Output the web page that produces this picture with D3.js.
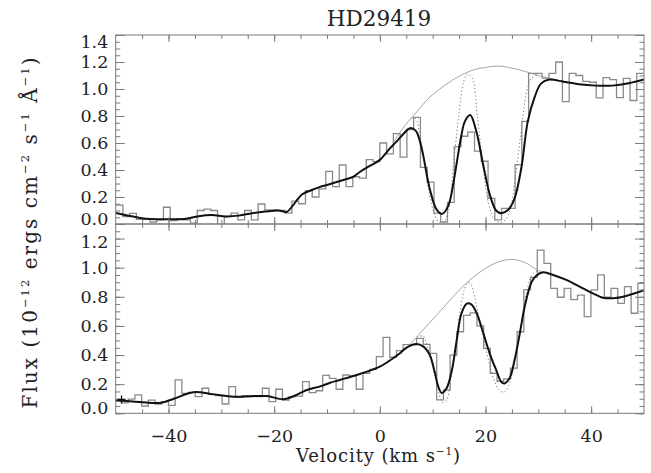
<!DOCTYPE html>
<html>
<head>
<meta charset="utf-8">
<script src="https://cdn.jsdelivr.net/npm/d3@7"></script>
<style>
  body { margin: 0; background: #fff; }
  text { font-family: "DejaVu Serif", serif; fill: #222; }
  .tick text { font-size: 17.5px; }
</style>
</head>
<body>
<div id="chart"></div>
<script>
// ---- data ----
// upper spectrum: left edge of each velocity bin (km/s) and flux
var velTop = [-49.92, -48.64, -47.36, -46.08, -44.80, -43.52, -42.24, -40.96, -39.68, -38.40,
  -37.12, -35.84, -34.56, -33.28, -32.00, -30.72, -29.44, -28.16, -26.88, -25.60,
  -24.32, -23.04, -21.76, -20.48, -19.20, -17.92, -16.64, -15.36, -14.08, -12.80,
  -11.52, -10.24, -8.96, -7.68, -6.40, -5.12, -3.84, -2.56, -1.28, 0.00,
  1.28, 2.56, 3.84, 5.12, 6.40, 7.68, 8.96, 10.24, 11.52, 12.80,
  14.08, 15.36, 16.64, 17.92, 19.20, 20.48, 21.76, 23.04, 24.32, 25.60,
  26.88, 28.16, 29.44, 30.72, 32.00, 33.28, 34.56, 35.84, 37.12, 38.40,
  39.68, 40.96, 42.24, 43.52, 44.80, 46.08, 47.36, 48.64];
var fluxTop = [0.14, 0.054, 0.079, 0.035, 0.035, 0.015, 0.03, 0.124, 0.025, 0.04,
  0.03, 0.007, 0.10, 0.11, 0.10, -0.01, 0.054, 0.08, 0.03, 0.10,
  0.03, 0.148, 0.104, 0.104, 0.10, 0.08, 0.17, 0.15, 0.247, 0.20,
  0.26, 0.39, 0.277, 0.437, 0.277, 0.35, 0.34, 0.477, 0.462, 0.60,
  0.52, 0.67, 0.495, 0.70, 0.79, 0.42, 0.31, 0.08, 0.015, 0.16,
  0.573, 0.65, 0.68, 0.54, 0.465, 0.19, 0.03, 0.116, 0.116, 0.44,
  0.76, 1.116, 1.116, 1.08, 1.116, 1.20, 0.906, 1.116, 1.10, 1.057,
  1.05, 0.935, 1.084, 1.07, 0.936, 1.078, 0.915, 1.116];

// lower spectrum
var velBot = [-50.17, -48.90, -47.63, -46.36, -45.09, -43.82, -42.55, -41.28, -40.01, -38.75,
  -37.48, -36.21, -34.94, -33.67, -32.40, -31.13, -29.86, -28.59, -27.32, -26.05,
  -24.78, -23.51, -22.24, -20.97, -19.70, -18.44, -17.17, -15.90, -14.63, -13.36,
  -12.09, -10.82, -9.55, -8.28, -7.01, -5.74, -4.47, -3.20, -1.93, -0.66,
  0.61, 1.88, 3.15, 4.41, 5.68, 6.95, 8.22, 9.49, 10.76, 12.03,
  13.30, 14.57, 15.84, 17.11, 18.38, 19.65, 20.91, 22.18, 23.45, 24.72,
  25.99, 27.26, 28.53, 29.80, 31.07, 32.34, 33.61, 34.88, 36.15, 37.41,
  38.68, 39.95, 41.22, 42.49, 43.76, 45.03, 46.30, 47.57, 48.84];
var fluxBot = [0.085, 0.071, 0.098, 0.126, 0.05, 0.091, 0.064, 0.08, 0.055, 0.229,
  0.137, 0.144, 0.114, 0.172, 0.13, 0.121, 0.064, 0.183, 0.11, 0.121,
  0.114, 0.114, 0.172, 0.08, 0.165, 0.091, 0.114, 0.118, 0.218, 0.142,
  0.155, 0.26, 0.24, 0.165, 0.263, 0.256, 0.165, 0.275, 0.302, 0.389,
  0.522, 0.385, 0.43, 0.472, 0.47, 0.515, 0.473, 0.412, 0.092, 0.16,
  0.40, 0.56, 0.672, 0.69, 0.60, 0.446, 0.275, 0.22, 0.237, 0.31,
  0.56, 0.85, 0.933, 1.12, 1.03, 0.858, 0.797, 0.858, 0.78, 0.812,
  0.664, 0.847, 0.95, 0.797, 0.858, 0.755, 0.87, 0.687, 0.893];

// model curves [velocity, flux]
var fitTop = [[-50, 0.082], [-47, 0.058], [-44, 0.038], [-40, 0.035], [-37, 0.037], [-34.3, 0.058],
  [-31.8, 0.066], [-29.2, 0.056], [-26.7, 0.062], [-24.2, 0.08], [-21.7, 0.092], [-19.2, 0.10],
  [-17.6, 0.09], [-16.6, 0.13], [-14.7, 0.22], [-12.9, 0.252], [-11.3, 0.275], [-10, 0.289],
  [-6.9, 0.326], [-5, 0.35], [-3.8, 0.385], [-1.9, 0.43], [0, 0.475], [1.9, 0.56], [3.15, 0.61],
  [4.4, 0.665], [5.7, 0.71], [6.8, 0.69], [7.6, 0.61], [8.2, 0.51], [9.45, 0.26], [10.7, 0.11],
  [11.8, 0.075], [13.0, 0.14], [13.9, 0.3], [14.5, 0.44], [15.4, 0.65], [16.1, 0.76], [17.1, 0.807],
  [18.3, 0.68], [19.5, 0.45], [20.8, 0.22], [22.0, 0.10], [23.0, 0.08], [24.3, 0.105], [25.5, 0.19],
  [26.8, 0.42], [28.0, 0.76], [29.3, 0.94], [30.5, 1.04], [32.1, 1.07], [34.6, 1.055], [37.7, 1.035],
  [40.9, 1.025], [44.0, 1.025], [47.1, 1.042], [50, 1.07]];
var contTop = [[2.5, 0.60], [4.0, 0.69], [5.5, 0.765], [7.0, 0.83], [9.45, 0.94], [12.6, 1.035],
  [15.0, 1.095], [17.6, 1.14], [20.0, 1.16], [22.5, 1.17], [25.0, 1.155], [27.5, 1.13],
  [30.0, 1.10], [32.5, 1.075], [35.0, 1.055], [37.7, 1.035]];
var dotTop = [[6.0, 0.785], [6.8, 0.78], [7.6, 0.65], [8.8, 0.35], [10.1, 0.10], [11.1, 0.017],
  [12.0, 0.01], [13.0, 0.10], [13.9, 0.42], [14.9, 0.79], [15.9, 1.06], [16.6, 1.11], [17.5, 1.08],
  [18.5, 0.78], [19.6, 0.40], [20.7, 0.13], [21.8, 0.03], [22.8, 0.01], [23.8, 0.035], [24.7, 0.11],
  [25.7, 0.36], [26.8, 0.70], [27.8, 0.98], [28.8, 1.085], [30.0, 1.10]];

var fitBot = [[-50, 0.09], [-45.5, 0.078], [-41.5, 0.072], [-39, 0.10], [-35.3, 0.145], [-31.5, 0.13],
  [-27.7, 0.114], [-23.9, 0.118], [-21.4, 0.118], [-18.3, 0.097], [-16.7, 0.112], [-13.8, 0.16],
  [-11.3, 0.185], [-9.4, 0.21], [-7.56, 0.229], [-3.8, 0.27], [0, 0.32], [2.5, 0.378], [3.8, 0.412],
  [5.0, 0.45], [6.9, 0.476], [8.2, 0.46], [9.45, 0.40], [10.4, 0.28], [11.0, 0.19], [11.7, 0.14],
  [12.6, 0.17], [13.6, 0.29], [14.5, 0.49], [15.4, 0.68], [16.4, 0.752], [17.3, 0.748], [18.3, 0.69],
  [19.5, 0.56], [20.8, 0.41], [22.1, 0.29], [23.0, 0.215], [23.6, 0.205], [24.6, 0.245], [25.5, 0.366],
  [26.5, 0.55], [27.4, 0.73], [28.7, 0.90], [29.6, 0.945], [30.9, 0.968], [32.8, 0.95], [35.3, 0.916],
  [37.8, 0.87], [40.3, 0.824], [42.2, 0.794], [44.1, 0.79], [46.6, 0.806], [50, 0.845]];
var contBot = [[5.5, 0.465], [7.5, 0.545], [10, 0.645], [12.5, 0.745], [15, 0.845], [17.5, 0.93],
  [20, 0.995], [22.5, 1.04], [25, 1.057], [27.5, 1.035], [29.5, 0.99], [31, 0.965]];
var dotBot = [[7.0, 0.525], [8.2, 0.53], [9.0, 0.46], [10.0, 0.32], [11.0, 0.17], [11.8, 0.075],
  [12.6, 0.09], [13.5, 0.25], [14.5, 0.52], [15.4, 0.75], [16.0, 0.85], [16.6, 0.895], [17.2, 0.89],
  [17.9, 0.80], [19.1, 0.60], [20.4, 0.39], [21.6, 0.23], [22.6, 0.16], [23.4, 0.145], [24.4, 0.19],
  [25.5, 0.36], [26.8, 0.62], [28.0, 0.87], [29.0, 0.96], [30.0, 0.98]];
var markBot = [[-48.9, 0.095]];

var xTicks = [-40, -20, 0, 20, 40];
var yTicksTop = [0, 0.2, 0.4, 0.6, 0.8, 1.0, 1.2, 1.4];
var yTicksBot = [0, 0.2, 0.4, 0.6, 0.8, 1.0, 1.2];

// ---- layout ----
var W = 651, H = 473;
var left = 115.7, right = 644;
var axisCol = "#7a7a7a";

var svg = d3.select("#chart").append("svg")
  .attr("width", W).attr("height", H)
  .style("background", "#fff");

var x = d3.scaleLinear().domain([-50, 50]).range([left, right]);

var line = function (y) {
  return d3.line().curve(d3.curveCatmullRom)
    .x(function (d) { return x(d[0]); })
    .y(function (d) { return y(d[1]); });
};

function drawPanel(p) {
  var y = d3.scaleLinear().domain([0, p.ymax]).range([p.bottom, p.top]);
  var g = svg.append("g");

  svg.append("clipPath").attr("id", "clip-" + p.name)
    .append("rect").attr("x", left).attr("y", p.top)
    .attr("width", right - left).attr("height", p.bottom - p.top);
  var plot = g.append("g").attr("clip-path", "url(#clip-" + p.name + ")");

  // histogram of the data
  var steps = p.vel.map(function (v, i) { return [v, p.flux[i]]; });
  var w = p.vel[1] - p.vel[0];
  steps.push([p.vel[p.vel.length - 1] + w, p.flux[p.flux.length - 1]]);
  plot.append("path").datum(steps)
    .attr("fill", "none").attr("stroke", "#8a8a8a").attr("stroke-width", 1.3)
    .attr("d", d3.line().curve(d3.curveStepAfter)
      .x(function (d) { return x(d[0]); })
      .y(function (d) { return y(d[1]); }));

  // intrinsic profile (dotted) and continuum
  plot.append("path").datum(p.dot)
    .attr("fill", "none").attr("stroke", "#777").attr("stroke-width", 1)
    .attr("stroke-dasharray", "1.2,2.4")
    .attr("d", line(y));
  plot.append("path").datum(p.cont)
    .attr("fill", "none").attr("stroke", "#9a9a9a").attr("stroke-width", 0.9)
    .attr("d", line(y));

  // fit
  plot.append("path").datum(p.fit)
    .attr("fill", "none").attr("stroke", "#111").attr("stroke-width", 2)
    .attr("d", line(y));

  // frame
  g.append("rect").attr("x", left).attr("y", p.top)
    .attr("width", right - left).attr("height", p.bottom - p.top)
    .attr("fill", "none").attr("stroke", axisCol).attr("stroke-width", 1);

  var minorY = d3.range(0, p.ymax + 0.001, 0.05);
  var minorX = d3.range(-45, 50, 5);

  function axis(gen, tx, ty) {
    var a = g.append("g").attr("transform", "translate(" + tx + "," + ty + ")")
      .attr("color", axisCol).call(gen);
    a.select(".domain").remove();
    return a;
  }

  // y axes, ticks pointing inward
  axis(d3.axisLeft(y).tickValues(minorY).tickSize(-4.5).tickFormat(""), left, 0);
  var ly = axis(d3.axisLeft(y).tickValues(p.yTicks).tickSize(-9).tickPadding(7.4)
    .tickFormat(d3.format(".1f")), left, 0);
  ly.selectAll("text").attr("y", function (d) {
    if (d === p.yTicks[p.yTicks.length - 1]) return p.topNudge;
    if (d === 0) return -5.5;
    return 0;
  });
  axis(d3.axisRight(y).tickValues(minorY).tickSize(-4.5).tickFormat(""), right, 0);
  axis(d3.axisRight(y).tickValues(p.yTicks).tickSize(-9).tickFormat(""), right, 0);

  // x axes on both edges
  axis(d3.axisTop(x).tickValues(minorX).tickSize(-4).tickFormat(""), 0, p.top);
  axis(d3.axisTop(x).tickValues(xTicks).tickSize(-7).tickFormat(""), 0, p.top);
  axis(d3.axisBottom(x).tickValues(minorX).tickSize(-4).tickFormat(""), 0, p.bottom);
  var lx = axis(d3.axisBottom(x).tickValues(xTicks).tickSize(-7).tickPadding(16)
    .tickFormat(p.xLabels ? d3.format("d") : ""), 0, p.bottom);

  return y;
}

drawPanel({ name: "top", top: 35, bottom: 224, ymax: 1.4, yTicks: yTicksTop, topNudge: 7.3,
  vel: velTop, flux: fluxTop, fit: fitTop, cont: contTop, dot: dotTop, xLabels: false });
var yBot = drawPanel({ name: "bot", top: 224, bottom: 413.3, ymax: 1.3, yTicks: yTicksBot, topNudge: 3,
  vel: velBot, flux: fluxBot, fit: fitBot, cont: contBot, dot: dotBot, xLabels: true });

// little plus marker on the first lower point
markBot.forEach(function (d) {
  var cx = x(d[0]), cy = yBot(d[1]);
  svg.append("path")
    .attr("d", "M" + (cx - 4) + "," + cy + "H" + (cx + 4) + "M" + cx + "," + (cy - 4) + "V" + (cy + 4))
    .attr("stroke", "#111").attr("stroke-width", 1.3);
});

// title
svg.append("text")
  .attr("x", 379).attr("y", 25.5)
  .attr("text-anchor", "middle")
  .style("font-size", "21.5px")
  .text("HD29419");

// x title
var xt = svg.append("text")
  .attr("x", 378).attr("y", 462)
  .attr("text-anchor", "middle")
  .attr("textLength", 164).attr("lengthAdjust", "spacing")
  .style("font-size", "18px");
xt.append("tspan").text("Velocity (km s");
xt.append("tspan").attr("dy", -7).style("font-size", "10.5px").text("−1");
xt.append("tspan").attr("dy", 7).text(")");

// y title
var yt = svg.append("text")
  .attr("transform", "translate(36.7,233) rotate(-90)")
  .attr("text-anchor", "middle")
  .attr("textLength", 351).attr("lengthAdjust", "spacing")
  .style("font-size", "20px");
yt.append("tspan").text("Flux (10");
yt.append("tspan").attr("dy", -8).style("font-size", "11.5px").text("−12");
yt.append("tspan").attr("dy", 8).text(" ergs cm");
yt.append("tspan").attr("dy", -8).style("font-size", "11.5px").text("−2");
yt.append("tspan").attr("dy", 8).text(" s");
yt.append("tspan").attr("dy", -8).style("font-size", "11.5px").text("−1");
yt.append("tspan").attr("dy", 8).text(" Å");
yt.append("tspan").attr("dy", -8).style("font-size", "11.5px").text("−1");
yt.append("tspan").attr("dy", 8).text(")");
</script>
</body>
</html>
